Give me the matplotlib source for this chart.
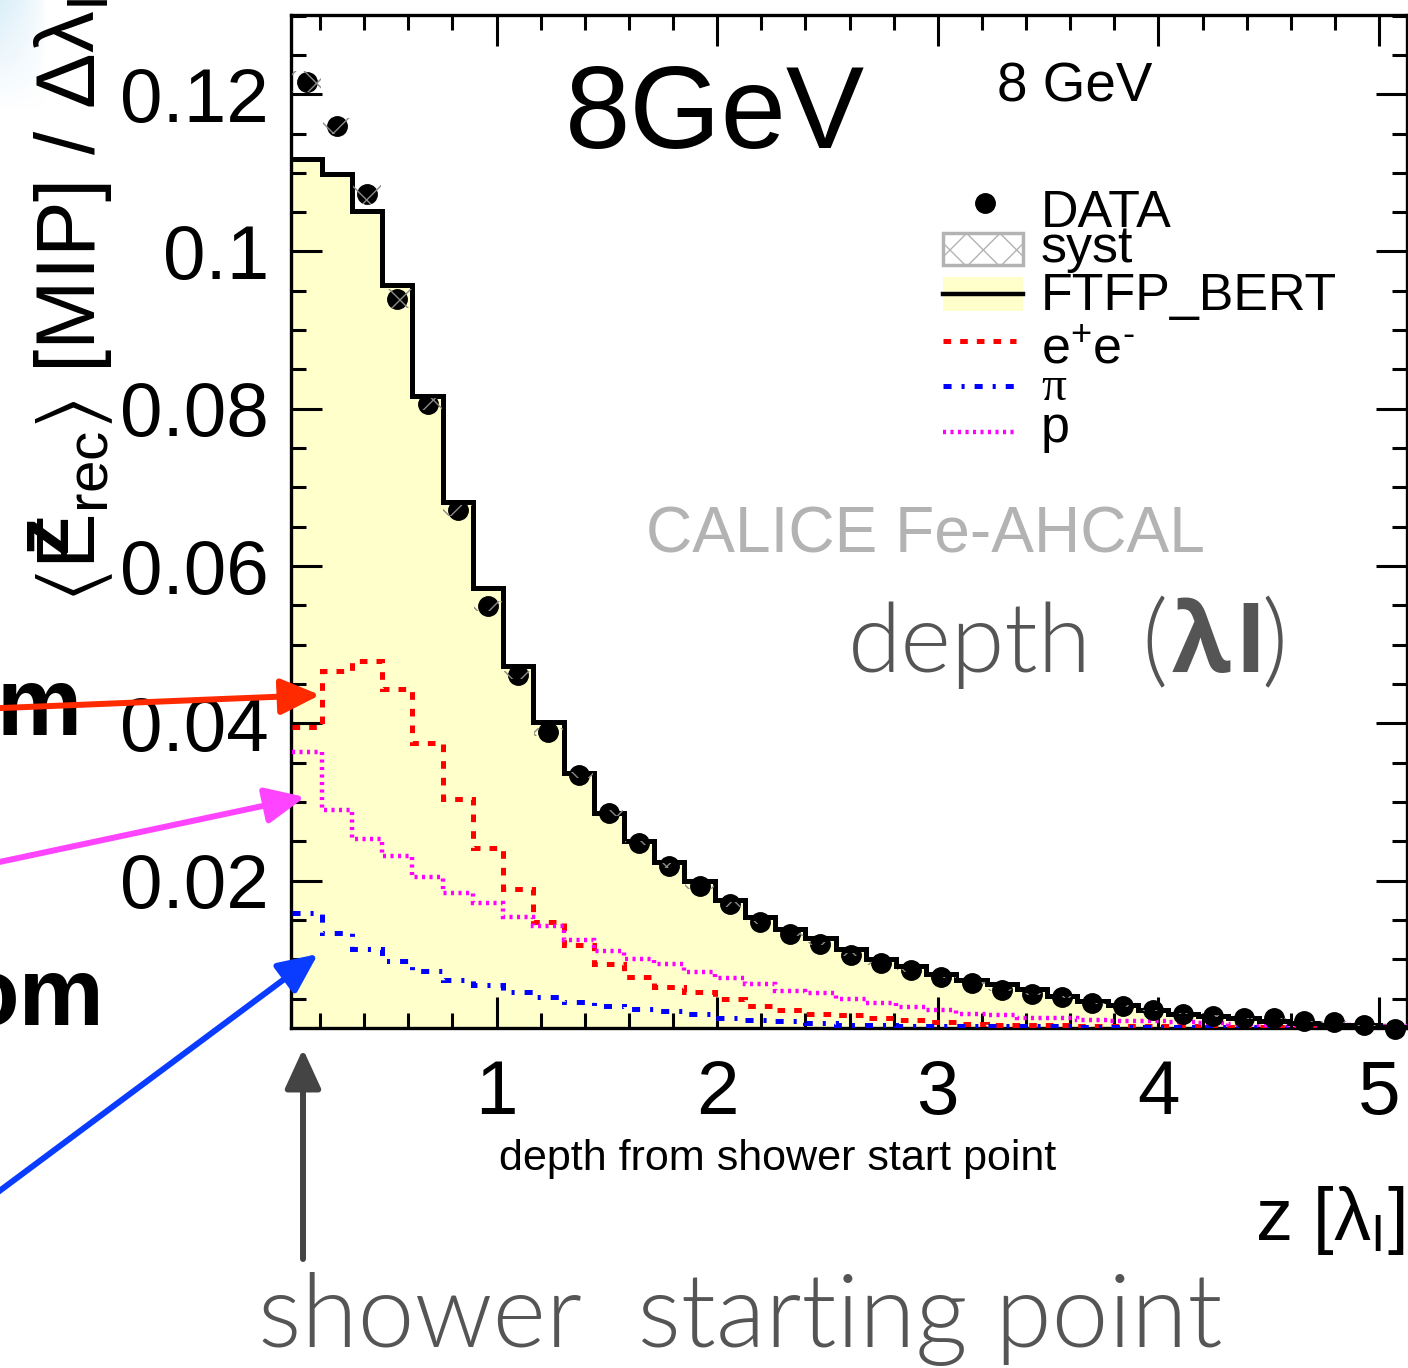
import matplotlib
matplotlib.use("Agg")
import matplotlib.pyplot as plt
import numpy as np
from matplotlib.patches import Rectangle, FancyArrowPatch
from matplotlib.lines import Line2D
from matplotlib.ticker import MultipleLocator, FixedLocator, FuncFormatter

# ---------------- data ----------------
bin_low = 0.0705          # lower edge of first depth bin [lambda_I]
bin_width = 0.137         # bin width [lambda_I]

data_vals = [0.1216, 0.1160, 0.1073, 0.0940, 0.0806, 0.0671, 0.0549, 0.0461, 0.0389,
             0.0334, 0.0286, 0.0248, 0.0219, 0.0193, 0.0170, 0.0147, 0.0132, 0.0120,
             0.0106, 0.0095, 0.0086, 0.0077, 0.0070, 0.0061, 0.0056, 0.0052, 0.0044,
             0.0041, 0.0035, 0.0031, 0.0028, 0.0025, 0.0025, 0.0021, 0.0020, 0.0016, 0.0012]
syst_vals = [0.0013, 0.0010, 0.0013, 0.0012, 0.0008, 0.0007, 0.0006, 0.0005, 0.0005,
             0.0004, 0.0004, 0.0003, 0.0003, 0.0003, 0.0003, 0.0002, 0.0002, 0.0002,
             0.0002, 0.0002, 0.0002, 0.0001, 0.0001, 0.0001, 0.0001, 0.0001, 0.0001,
             0.0001, 0.0001, 0.0001, 0.0001, 0.0001, 0.0001, 0.0001, 0.0001, 0.0001, 0.0001]
ftfp_vals = [0.1117, 0.1099, 0.1051, 0.0957, 0.0816, 0.0682, 0.0572, 0.0473, 0.0402,
             0.0337, 0.0286, 0.0250, 0.0224, 0.0199, 0.0176, 0.0154, 0.0138, 0.0127,
             0.0113, 0.0100, 0.0091, 0.0081, 0.0074, 0.0069, 0.0062, 0.0053, 0.0047,
             0.0042, 0.0036, 0.0030, 0.0028, 0.0025, 0.0022, 0.0019, 0.0017, 0.0016, 0.0014]
ee_vals = [0.0396, 0.0467, 0.0479, 0.0444, 0.0375, 0.0304, 0.0242, 0.0189, 0.0147,
           0.0118, 0.0094, 0.0077, 0.0065, 0.0058, 0.0049, 0.0041, 0.0036, 0.0031,
           0.0029, 0.0025, 0.0023, 0.0020, 0.0018, 0.0017, 0.0016, 0.0016, 0.0015,
           0.0015, 0.0015, 0.0015, 0.0014, 0.0014, 0.0014, 0.0014, 0.0014, 0.0014, 0.0014]
pi_vals = [0.0159, 0.0133, 0.0113, 0.0098, 0.0085, 0.0074, 0.0067, 0.0058, 0.0052,
           0.0046, 0.0041, 0.0037, 0.0034, 0.0031, 0.0026, 0.0023, 0.0021, 0.0019,
           0.0017, 0.0016, 0.0015, 0.0015, 0.0015, 0.0015, 0.0015, 0.0015, 0.0014,
           0.0014, 0.0014, 0.0014, 0.0014, 0.0014, 0.0014, 0.0014, 0.0014, 0.0014, 0.0014]
p_vals = [0.0363, 0.0290, 0.0253, 0.0231, 0.0205, 0.0184, 0.0171, 0.0154, 0.0142,
          0.0125, 0.0110, 0.0100, 0.0094, 0.0084, 0.0076, 0.0069, 0.0060, 0.0057,
          0.0050, 0.0045, 0.0040, 0.0036, 0.0031, 0.0029, 0.0026, 0.0025, 0.0023,
          0.0022, 0.0021, 0.0020, 0.0019, 0.0018, 0.0017, 0.0016, 0.0016, 0.0015, 0.0015]

x_major_ticks = [1, 2, 3, 4, 5]

# ---------------- figure ----------------
W, H, DPI = 1408, 1368, 100
plt.rcParams["font.family"] = ["Liberation Sans", "DejaVu Sans"]
plt.rcParams["mathtext.fontset"] = "custom"
plt.rcParams["mathtext.rm"] = "Liberation Sans"
plt.rcParams["mathtext.it"] = "Liberation Sans:italic"
plt.rcParams["mathtext.bf"] = "Liberation Sans:bold"
plt.rcParams["lines.scale_dashes"] = False

fig = plt.figure(figsize=(W / DPI, H / DPI), dpi=DPI)
fig.patch.set_facecolor("white")


def F(x, y):
    return (x / W, 1 - y / H)


# light blue corner (background decoration)
bgax = fig.add_axes([0, 1 - 110 / H, 45 / W, 110 / H])
gy, gx = np.mgrid[0:110, 0:45]
alpha = np.clip(1 - gy / 110.0, 0, 1) * np.clip(1 - gx / 45.0, 0, 1) ** 0.6
img = np.zeros((110, 45, 4))
img[..., 0], img[..., 1], img[..., 2] = 0.86, 0.94, 0.98
img[..., 3] = alpha
bgax.imshow(img, aspect="auto", interpolation="bilinear")
bgax.axis("off")

ax_left, ax_right, ax_top, ax_bot = 291, 1407, 15, 1028
ax = fig.add_axes([ax_left / W, 1 - ax_bot / H, (ax_right - ax_left) / W, (ax_bot - ax_top) / H])
px_per_x = 220.6
px_per_y = 7865.0
xmin, ymin = 0.068, 0.00127
ax.set_xlim(xmin, xmin + (ax_right - ax_left) / px_per_x)
ax.set_ylim(ymin, ymin + (ax_bot - ax_top) / px_per_y)

edges = bin_low + bin_width * np.arange(len(data_vals) + 1)
centers = edges[:-1] + bin_width / 2

ax.stairs(ftfp_vals, edges, fill=True, facecolor="#ffffcc", edgecolor="none", baseline=0, zorder=1)
ax.stairs(ee_vals, edges, baseline=None, color="#ff0000", lw=3.6, linestyle=(0, (5.5, 6.5)), zorder=3)
ax.stairs(pi_vals, edges, baseline=None, color="#0000ff", lw=3.6, linestyle=(0, (5.8, 7.2, 2.2, 7.2)), zorder=3)
ax.stairs(p_vals, edges, baseline=None, color="#ff00ff", lw=3.2, linestyle=(0, (2.2, 3.2)), zorder=3)
ax.stairs(ftfp_vals, edges, baseline=None, color="black", lw=3.6, zorder=4)
ax.plot(centers, data_vals, "o", ms=14, color="black", zorder=6, clip_on=False)
dv = np.array(data_vals)
sv = np.array(syst_vals)
ax.bar(centers, 2 * sv, bottom=dv - sv, width=bin_width * 0.95, fill=False,
       edgecolor="#8a8a8a", hatch="x", lw=0, zorder=7)

# axes styling
for s in ax.spines.values():
    s.set_linewidth(2.4)
ax.xaxis.set_major_locator(FixedLocator(x_major_ticks))
ax.xaxis.set_minor_locator(MultipleLocator(0.2))
ax.yaxis.set_major_locator(MultipleLocator(0.02))
ax.yaxis.set_minor_locator(MultipleLocator(0.005))
ax.yaxis.set_major_formatter(FuncFormatter(lambda v, _: "%g" % round(v, 4)))
ax.xaxis.set_major_formatter(FuncFormatter(lambda v, _: "%g" % v))
ax.tick_params(which="both", direction="in", top=True, right=True, width=2.2, colors="black")
ax.tick_params(which="major", length=22)
ax.tick_params(which="minor", length=11)
ax.tick_params(axis="y", which="major", labelsize=55, pad=16)
ax.tick_params(axis="x", which="major", labelsize=55, pad=22)

fig.canvas.draw()
R = fig.canvas.get_renderer()


def text(x, y, s, width=None, size=40, ha="left", va="baseline", **kw):
    t = fig.text(*F(x, y), s, fontsize=size, ha=ha, va=va, **kw)
    if width is not None:
        bb = t.get_window_extent(R)
        t.set_fontsize(size * width / bb.width)
    return t


GILL = ["Lato", "Open Sans", "DejaVu Sans"]
GW = 300
GRAY = "#555555"

# big titles / annotations
text(565, 148, "8GeV", width=300, size=85)
text(997, 102, "8 GeV", width=155, size=40)
text(646, 553, "CALICE Fe-AHCAL", width=558, size=52, color="#b3b3b3")
t_depth = text(848, 672, "depth", width=244, size=70, family=GILL, weight=GW, color=GRAY)
dsz = t_depth.get_fontsize()
text(1141, 674, "(", size=dsz * 1.05, family=GILL, weight=GW, color=GRAY)
t_lam = text(1172, 672, "λ", width=59, size=dsz, family=["Open Sans", "DejaVu Sans"], weight="bold", color=GRAY)
text(1234, 672, "I", size=t_lam.get_fontsize(), family=["Open Sans", "DejaVu Sans"], weight="bold", color=GRAY)
text(1288, 674, ")", size=dsz * 1.05, ha="right", family=GILL, weight=GW, color=GRAY)
text(258, 1347, "shower  starting point", width=965, size=70, family=GILL, weight=GW, color=GRAY)
text(499, 1170, "depth from shower start point", width=559, size=28,
     family=["Liberation Sans Narrow", "Liberation Sans", "DejaVu Sans"])
text(1255, 1240, r"z [$\mathregular{\lambda_{I}}$]", width=150, size=45,
     family=["Liberation Sans Narrow", "Liberation Sans", "DejaVu Sans"])
text(82, 735, "m", size=69, ha="right", weight="bold")
text(104, 1025, "om", size=69, ha="right", weight="bold")

# y-axis title (rotated)
fig.text(*F(95, 602), r"$\mathregular{\langle E_{rec}\rangle}$ [MIP] / $\mathregular{\Delta\lambda_{I}}$",
         fontsize=60, rotation=90, rotation_mode="anchor", ha="left", va="baseline")
fig.text(*F(66, 533), "z", fontsize=56, weight="bold", rotation=90, rotation_mode="anchor",
         ha="center", va="baseline")

# legend (drawn manually)
fig.add_artist(Line2D([985 / W], [1 - 203 / H], marker="o", ms=14, color="black", transform=fig.transFigure))
fig.add_artist(Rectangle(F(943, 265), 80 / W, 32 / H, transform=fig.transFigure, facecolor="white",
                         edgecolor="#b3b3b3", lw=2.5, hatch="x"))
fig.add_artist(Rectangle(F(943, 311), 80 / W, 34 / H, transform=fig.transFigure, facecolor="#ffffcc",
                         edgecolor="none"))
fig.add_artist(Line2D([943 / W, 1023 / W], [1 - 294 / H] * 2, color="black", lw=3.2, transform=fig.transFigure))
fig.add_artist(Line2D([943 / W, 1016 / W], [1 - 341 / H] * 2, color="#ff0000", lw=3.6,
                      linestyle=(0, (5.5, 6.5)), transform=fig.transFigure))
fig.add_artist(Line2D([943 / W, 1016 / W], [1 - 386 / H] * 2, color="#0000ff", lw=3.6,
                      linestyle=(0, (5.8, 7.2, 2.2, 7.2)), transform=fig.transFigure))
fig.add_artist(Line2D([943 / W, 1018 / W], [1 - 432 / H] * 2, color="#ff00ff", lw=3.2,
                      linestyle=(0, (2.2, 3.2)), transform=fig.transFigure))
t_f = text(1041, 310, "FTFP_BERT", width=297, size=36)
lsz = t_f.get_fontsize()
text(1041, 227, "DATA", size=lsz)
text(1041, 262, "syst", size=lsz)
text(1041, 363, "e$^{+}$e$^{\\mathrm{\u2010}}$", size=lsz)
text(1041, 400, "π", size=lsz * 0.95, family=["Liberation Serif", "DejaVu Serif"])
text(1041, 442, "p", size=lsz)

# arrows
def arrow(p0, p1, color):
    a = FancyArrowPatch(F(*p0), F(*p1), transform=fig.transFigure,
                        arrowstyle="-|>,head_length=24,head_width=11",
                        color=color, lw=4.3, shrinkA=0, shrinkB=0, zorder=20)
    fig.add_artist(a)

arrow((-10, 708.5), (320, 695), "#ff2a00")
arrow((-10, 864), (305, 797), "#ff44ff")
arrow((-10, 1198), (318, 954), "#0a3cff")
arrow((303, 1259), (303, 1049), "#444444")

fig.savefig("out.png", dpi=DPI, facecolor="white")
